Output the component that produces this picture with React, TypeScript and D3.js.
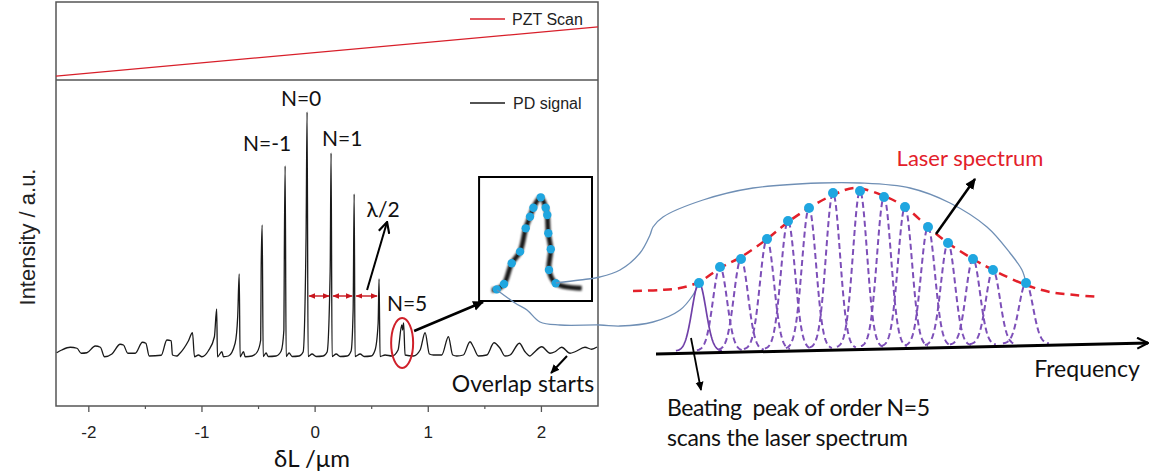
import React from 'react';
import * as d3 from 'd3';

// ---------------- Left panel data ----------------
const xTicks = [-2, -1, 0, 1, 2];
const xMinorTicks = [-1.5, -0.5, 0.5, 1.5];
const xTickLabels = ['-2', '-1', '0', '1', '2'];

const pztX = [-2.29, 2.5];
const pztV = [0.05, 0.68];

const pdX = [
  -2.284, -2.239, -2.164, -2.105, -2.067, -2.017, -1.943, -1.898, -1.861, -1.796,
  -1.723, -1.694, -1.655, -1.59, -1.526, -1.496, -1.466, -1.36, -1.31, -1.272,
  -1.261, -1.222, -1.201, -1.119, -1.084, -1.066, -1.031, -1.001, -0.943, -0.89,
  -0.87, -0.863, -0.824, -0.81, -0.766, -0.707, -0.684, -0.671, -0.663, -0.633,
  -0.618, -0.557, -0.512, -0.481, -0.477, -0.468, -0.459, -0.433, -0.415, -0.345,
  -0.3, -0.276, -0.272, -0.265, -0.256, -0.23, -0.203, -0.141, -0.106, -0.08,
  -0.071, -0.062, -0.027, 0.009, 0.071, 0.106, 0.133, 0.141, 0.15, 0.186,
  0.221, 0.283, 0.318, 0.336, 0.345, 0.353, 0.398, 0.433, 0.495, 0.53,
  0.557, 0.565, 0.574, 0.618, 0.68, 0.733, 0.766, 0.773, 0.782, 0.795,
  0.868, 0.928, 0.972, 1.01, 1.045, 1.119, 1.178, 1.216, 1.252, 1.31,
  1.369, 1.398, 1.443, 1.517, 1.581, 1.634, 1.678, 1.723, 1.805, 1.855,
  1.899, 1.928, 2.003, 2.076, 2.12, 2.179, 2.253, 2.297, 2.385, 2.444,
  2.491,
];
const pdI = [
  1.3, 2.4, 3.5, 3.1, 1.1, 1.3, 4.0, 3.5, -0.3, 0.8,
  4.7, 4.4, 1.1, 1.1, 5.5, 5.1, 0, 0.3, 6.4, 6.1,
  0.4, 0, 0.8, 6.1, 9.3, -0.3, 0.4, -0.3, 2.1, 7.7,
  18.8, -0.3, 1.7, -0.3, 0, 5.1, 16, 32.8, -0.3, 1.7,
  -0.3, 0, 1.6, 6.4, 34.8, 52.4, -0.2, 1.2, -0.2, 0,
  2, 10.4, 42.4, 76, -0.2, 1.2, -0.2, 0, 1.6, 47.6,
  97.6, -0.2, 0.8, -0.2, 0, 1.6, 34, 81.2, -0.2, 0.8,
  -0.2, 0, 2, 18.4, 64.8, -0.2, 0.8, -0.2, 0, 2.4,
  13.2, 30.8, -0.2, 0.4, 0, 2.4, 12.4, 10.4, 13.2, 0.4,
  0, 2.4, 9.3, 0.8, 0.4, 0.4, 7.7, 0.4, 0, 0.4,
  5.7, 3.7, 0, 0.4, 5.3, 3.1, 0, 0.4, 5.1, 1.7,
  0, 1.1, 3.7, 1.1, 1.7, 3.5, 1.1, 1.7, 3.5, 2.7,
  3.6,
];

const orderLabels = ['N=-1', 'N=0', 'N=1', 'N=5'];
const orderLabelX = [-0.424, -0.124, 0.239, 0.813];
const orderLabelI = [85.6, 103.6, 87.6, 21.6];

const spacingPeaksX = [-0.071, 0.141, 0.345, 0.565];
const spacingLevel = 24;

// Zoomed N=5 peak (inset), inset units 0..100
const insetLineX = [11.2, 15.7, 22.1, 28.9, 36.3, 41.3, 45.1, 48.1, 54.6, 59.0, 60.4, 61.3, 63.5, 61.9, 67.9, 90.9];
const insetLineY = [8.9, 9.4, 13.7, 30.4, 39.8, 58.6, 68.0, 75.2, 83.6, 75.2, 69.4, 54.6, 41.7, 25.0, 14.3, 10.2];

// ---------------- Right panel data ----------------
const combF = [19.8, 24.0, 28.2, 33.4, 37.6, 41.8, 46.6, 52.0, 56.8, 61.0, 65.6, 69.6, 74.6, 78.6, 85.2];
const combA = [35.5, 43.5, 47.5, 57.5, 66.5, 73, 80.5, 81.5, 78.5, 73.5, 63.5, 55.5, 47.5, 42, 35.5];
const combBase = [1.5, 1.7, 2.0, 2.3, 2.5, 2.7, 3.0, 3.3, 3.6, 3.8, 4.1, 4.3, 4.6, 4.8, 5.2];
const combWidth = 1.4;

const envF = [6.6, 12, 16, 19.8, 24, 28.2, 33.4, 37.6, 41.8, 46.6, 51, 56.8, 61, 65.6, 69.6, 74.6, 78.6, 85.2, 90, 95, 100];
const envA = [31.5, 32, 33, 36, 43, 48.5, 57.5, 66, 73, 79.5, 83, 79, 73.5, 63.5, 55.5, 47.5, 42, 34.5, 31, 29.5, 28.5];

const freqAxisF = [11.2, 109.6];
const freqAxisA = [0, 5.5];

const calloutUpperF = [-8.8, -4, 0, 4, 8, 10, 10.6, 12.6, 20.6, 30.6, 44, 52, 62, 70, 77.4, 82, 84.4, 85.2];
const calloutUpperA = [35.5, 37, 38.5, 42, 50.5, 59.5, 63.5, 68.5, 77, 83, 85.5, 85.5, 83, 75.5, 63.5, 50.5, 42, 35.5];
const calloutLowerF = [-20.6, -17, -14.6, -12, -8, 0, 4, 10.6, 16, 18.6, 19.8];
const calloutLowerA = [32, 25.5, 22, 16, 14.5, 14.5, 14, 16, 22, 29.5, 35.5];

// ---------------- Component ----------------
export default function App() {
  const x = d3.scaleLinear().domain([-2.29, 2.5]).range([56, 598]);
  const yPd = d3.scaleLinear().domain([-20, 110]).range([406, 81]);
  const yPzt = d3.scaleLinear().domain([0, 1]).range([80, 2]);
  const fS = d3.scaleLinear().domain([0, 110]).range([600, 1150]);
  const aS = d3.scaleLinear().domain([0, 177]).range([354, 0]);

  const L = 56, R = 598, T = 2, MID = 80, B = 406;

  const pdLine = d3.line<number>()
    .x((_, i) => x(pdX[i]))
    .y((_, i) => yPd(pdI[i]))
    .curve(d3.curveMonotoneX)(pdX as any) || '';

  const pztLine = d3.line<number>()
    .x((_, i) => x(pztX[i]))
    .y((_, i) => yPzt(pztV[i]))(pztX as any) || '';

  // inset box
  const bx0 = x(1.449), bx1 = x(2.447), by0 = yPd(71.6), by1 = yPd(22);
  const inX = d3.scaleLinear().domain([0, 100]).range([bx0, bx1]);
  const inY = d3.scaleLinear().domain([0, 100]).range([by1, by0]);
  const insetPath = d3.line<number>()
    .x((_, i) => inX(insetLineX[i]))
    .y((_, i) => inY(insetLineY[i]))
    .curve(d3.curveCatmullRom)(insetLineX as any) || '';

  const fa = (fArr: number[], aArr: number[], curve: any) =>
    d3.line<number>()
      .x((_, i) => fS(fArr[i]))
      .y((_, i) => aS(aArr[i]))
      .curve(curve)(fArr as any) || '';

  const envPath = fa(envF, envA, d3.curveCatmullRom);
  const upperPath = fa(calloutUpperF, calloutUpperA, d3.curveCatmullRom);
  const lowerPath = fa(calloutLowerF, calloutLowerA, d3.curveCatmullRom);

  const peakPaths = combF.map((c, k) => {
    const pts: [number, number][] = [];
    const s = combWidth;
    for (let d = -3.3 * s; d <= 3.3 * s + 1e-9; d += 0.1) {
      const a = combBase[k] + (combA[k] - combBase[k]) * Math.exp(-(d * d) / (2 * s * s));
      pts.push([fS(c + d), aS(a)]);
    }
    return d3.line()(pts) || '';
  });

  const calibri = 'Lato, "Open Sans", sans-serif';
  const arial = '"Liberation Sans", Arial, sans-serif';

  return (
    <svg width={1150} height={472} style={{ position: 'absolute', left: 0, top: 0, background: '#fff' }}>
      <defs>
        <marker id="ahB" viewBox="0 0 10 10" refX="9" refY="5" markerWidth="11" markerHeight="11" markerUnits="userSpaceOnUse" orient="auto">
          <path d="M0,0.5 L10,5 L0,9.5 z" fill="#000" />
        </marker>
        <marker id="ahBs" viewBox="0 0 10 10" refX="9" refY="5" markerWidth="9" markerHeight="9" markerUnits="userSpaceOnUse" orient="auto">
          <path d="M0,0.5 L10,5 L0,9.5 z" fill="#000" />
        </marker>
        <marker id="ahOpen" viewBox="0 0 12 12" refX="11" refY="6" markerWidth="13" markerHeight="13" markerUnits="userSpaceOnUse" orient="auto">
          <path d="M1,1 L11,6 L1,11" fill="none" stroke="#000" strokeWidth="2" />
        </marker>
        <marker id="ahR" viewBox="0 0 10 10" refX="9" refY="5" markerWidth="7" markerHeight="7" markerUnits="userSpaceOnUse" orient="auto-start-reverse">
          <path d="M0,1 L10,5 L0,9 z" fill="#c8161e" />
        </marker>
        <filter id="blur" x="-20%" y="-20%" width="140%" height="140%">
          <feGaussianBlur stdDeviation="1.1" />
        </filter>
      </defs>

      {/* ---------- Left panel frames ---------- */}
      <rect x={L} y={T} width={R - L} height={B - T} fill="none" stroke="#555" strokeWidth={1.5} />
      <line x1={L} x2={R} y1={MID} y2={MID} stroke="#555" strokeWidth={1.5} />

      {/* PZT scan */}
      <path d={pztLine} fill="none" stroke="#d81f2a" strokeWidth={1.3} />
      <line x1={470} x2={505} y1={19} y2={19} stroke="#d81f2a" strokeWidth={1.3} />
      <text x={512} y={19} dominantBaseline="central" fontFamily={arial} fontSize={16} fill="#222">PZT Scan</text>

      {/* PD signal */}
      <path d={pdLine} fill="none" stroke="#1a1a1a" strokeWidth={1.3} strokeLinejoin="round" />
      <line x1={470} x2={505} y1={103} y2={103} stroke="#1a1a1a" strokeWidth={1.3} />
      <text x={513} y={103} dominantBaseline="central" fontFamily={arial} fontSize={16} fill="#222">PD signal</text>

      {/* x axis ticks */}
      {xTicks.map((t, i) => (
        <g key={'t' + t}>
          <line x1={x(t)} x2={x(t)} y1={B} y2={B + 6} stroke="#555" strokeWidth={1.3} />
          <text x={x(t)} y={432} textAnchor="middle" dominantBaseline="central" fontFamily={arial} fontSize={17} fill="#222">{xTickLabels[i]}</text>
        </g>
      ))}
      {xMinorTicks.map((t) => (
        <line key={'m' + t} x1={x(t)} x2={x(t)} y1={B} y2={B + 3} stroke="#555" strokeWidth={1.2} />
      ))}
      <text x={312} y={457} textAnchor="middle" dominantBaseline="central" fontFamily={calibri} fontSize={24} fill="#111">δL /μm</text>
      <text transform="translate(27,237) rotate(-90)" textAnchor="middle" dominantBaseline="central" fontFamily={arial} fontSize={22} fill="#222">Intensity / a.u.</text>

      {/* order labels */}
      {orderLabels.map((s, i) => (
        <text key={s} x={x(orderLabelX[i])} y={yPd(orderLabelI[i])} textAnchor="middle" dominantBaseline="central" fontFamily={calibri} fontSize={21} fill="#111">{s}</text>
      ))}

      {/* lambda/2 spacing arrows */}
      {spacingPeaksX.slice(0, -1).map((p, i) => (
        <line key={'sp' + i} x1={x(p) + 2} x2={x(spacingPeaksX[i + 1]) - 2} y1={yPd(spacingLevel)} y2={yPd(spacingLevel)}
          stroke="#c8161e" strokeWidth={1.4} markerStart="url(#ahR)" markerEnd="url(#ahR)" />
      ))}
      <line x1={x(0.459)} y1={yPd(26.4)} x2={x(0.636)} y2={yPd(53.6)} stroke="#000" strokeWidth={2} markerEnd="url(#ahOpen)" />
      <text x={x(0.601)} y={yPd(59.2)} textAnchor="middle" dominantBaseline="central" fontFamily={calibri} fontSize={21} fill="#111">λ/2</text>

      {/* N=5 ellipse and arrow to inset */}
      <ellipse cx={x(0.769)} cy={yPd(5.2)} rx={11} ry={25} fill="none" stroke="#d0202a" strokeWidth={2} />
      <line x1={x(0.875)} y1={yPd(10)} x2={x(1.484)} y2={yPd(21.6)} stroke="#000" strokeWidth={2.5} markerEnd="url(#ahB)" />

      {/* overlap starts */}
      <line x1={x(2.226)} y1={yPd(0)} x2={x(2.085)} y2={yPd(-6.8)} stroke="#000" strokeWidth={2} markerEnd="url(#ahBs)" />
      <text x={x(1.837)} y={yPd(-10.8)} textAnchor="middle" dominantBaseline="central" fontFamily={calibri} fontSize={23} fill="#111">Overlap starts</text>

      {/* inset */}
      <rect x={bx0} y={by0} width={bx1 - bx0} height={by1 - by0} fill="#fff" stroke="#000" strokeWidth={2} />
      <path d={insetPath} fill="none" stroke="#000" strokeWidth={5} strokeLinejoin="round" filter="url(#blur)" opacity={0.9} />
      {insetLineX.slice(1, -1).map((v, i) => (
        <circle key={'d' + i} cx={inX(v)} cy={inY(insetLineY[i + 1])} r={4.2} fill="#1fa6e0" />
      ))}

      {/* ---------- Right panel ---------- */}
      <path d={upperPath} fill="none" stroke="#6f8fb5" strokeWidth={1.3} />
      <path d={lowerPath} fill="none" stroke="#6f8fb5" strokeWidth={1.3} />

      {peakPaths.map((p, k) => (
        <path key={'pk' + k} d={p} fill="none" stroke={k === 0 ? '#7040a8' : '#7d4fb8'} strokeWidth={k === 0 ? 1.7 : 2}
          strokeDasharray={k === 0 ? undefined : '6,3.5'} />
      ))}

      <path d={envPath} fill="none" stroke="#e3202a" strokeWidth={2.5} strokeDasharray="9,6" />

      {combF.map((c, k) => (
        <circle key={'cd' + k} cx={fS(c)} cy={aS(combA[k])} r={5} fill="#1fa6e0" />
      ))}

      <line x1={fS(freqAxisF[0])} y1={aS(freqAxisA[0])} x2={fS(freqAxisF[1])} y2={aS(freqAxisA[1])} stroke="#000" strokeWidth={3} markerEnd="url(#ahOpen)" />

      <line x1={fS(67.2)} y1={aS(60)} x2={fS(75)} y2={aS(87.5)} stroke="#000" strokeWidth={2.5} markerEnd="url(#ahB)" />
      <text x={fS(74)} y={aS(98.5)} textAnchor="middle" dominantBaseline="central" fontFamily={calibri} fontSize={22} fill="#e3202a">Laser spectrum</text>

      <text x={fS(97.4)} y={aS(-7)} textAnchor="middle" dominantBaseline="central" fontFamily={calibri} fontSize={23} fill="#111">Frequency</text>

      <line x1={fS(18.2)} y1={aS(8)} x2={fS(20.2)} y2={aS(-18)} stroke="#000" strokeWidth={1.8} markerEnd="url(#ahBs)" />
      <text x={fS(13.4)} y={aS(-26.5)} dominantBaseline="central" fontFamily={calibri} fontSize={23} fill="#111" xmlSpace="preserve" textLength={263} lengthAdjust="spacing">Beating  peak of order N=5</text>
      <text x={fS(13.4)} y={aS(-41.5)} dominantBaseline="central" fontFamily={calibri} fontSize={23} fill="#111" textLength={241} lengthAdjust="spacing">scans the laser spectrum</text>
    </svg>
  );
}
